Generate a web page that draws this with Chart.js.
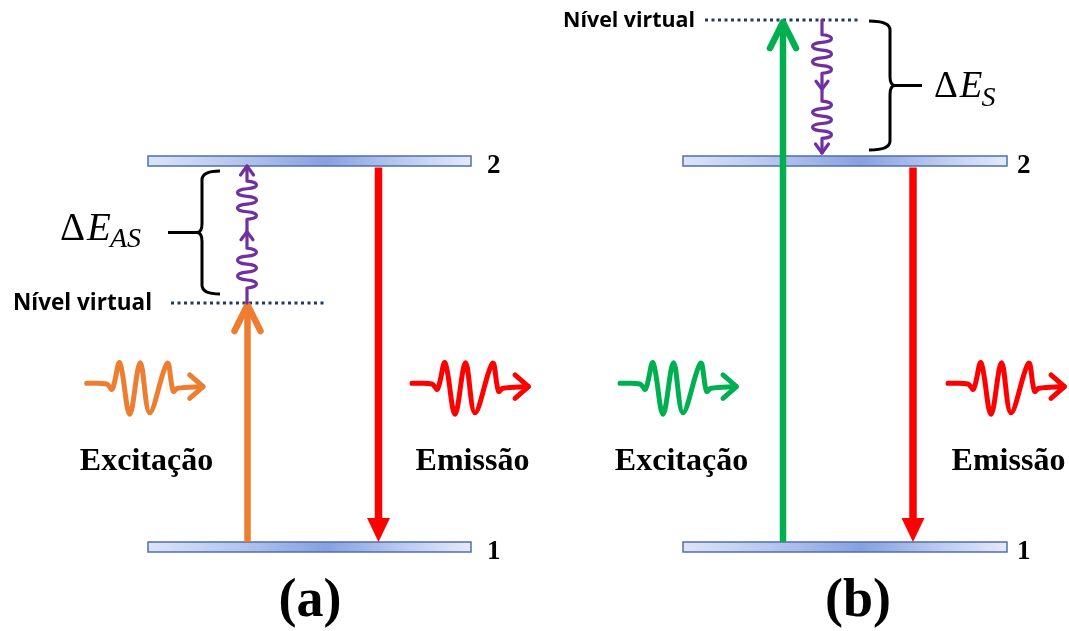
<!DOCTYPE html>
<html>
<head>
<meta charset="utf-8">
<script src="https://cdn.jsdelivr.net/npm/chart.js@4/dist/chart.umd.min.js"></script>
<style>
  html, body { margin: 0; padding: 0; background: #ffffff; overflow: hidden; }
  canvas { display: block; }
</style>
</head>
<body>
<canvas id="diagram" width="1069" height="631"></canvas>
<script>
// ---- Energy-level data (arbitrary units: ground state 1 = 0, excited state 2 = 1) ----
const levelNames = ['1', '2'];
const levelEnergy = [0, 1];
// Virtual level reached by the pump photon: (a) anti-Stokes, (b) Stokes
const panelNames = ['(a)', '(b)'];
const virtualEnergy = [0.632, 1.365];
const deltaSubscripts = ['AS', 'S'];
const photonLabels = ['Excitação', 'Emissão'];
const virtualLabel = 'Nível virtual';

// ---- Layout and style ----
const W = 1069, H = 631;
const E_TOP = 1.4171, E_BOTTOM = -0.2176;   // energy range spanned by the canvas
const BAR_H = 10;
const NAVY = '#1f3864', RED = '#ff0000', PURPLE = '#7030a0';
const SERIF = '"Liberation Serif", "Times New Roman", serif';
const SANS = '"Open Sans", "Liberation Sans", sans-serif';
const WAVE_Y = 383.3;
// photon glyph: wave packet followed by an arrow (offsets from its left end)
const WAVE_SHAPE = [[0, 0], [20, 0.7], [25.5, 6], [33, -20.5], [43, 31], [53.5, -20.5], [63, 29.5], [80.5, -20], [86.5, 8], [91, 5], [116, 3.3]];
const WAVE_HEAD = [[103, -8.5], [116.5, 3.3], [103, 15]];

const panels = [
  { levelX: [148, 471], pumpX: 247.5, emitX: 378.5, relaxX: 247, pumpColor: '#ed7d31',
    dotted: [171, 325], labelRight: 152, labelWidth: 139,
    brace: { tipX: 220, spineX: 202, cuspX: 197, tickX: 168, topPad: 5, botPad: -9 },
    delta: { x: 60, size: 39, subSize: 28, dy: 240 - 233, subDy: 247 - 233 },
    waveX: [86.7, 412], labelX: [146.5, 472.5], nameX: 310, levelLabelX: 487 },
  { levelX: [683, 1007], pumpX: 783, emitX: 913, relaxX: 822, pumpColor: '#00b050',
    dotted: [705, 860], labelRight: 695, labelWidth: 132,
    brace: { tipX: 869, spineX: 890, cuspX: 895, tickX: 922, topPad: 1, botPad: -8 },
    delta: { x: 934, size: 37, subSize: 28, dy: 98 - 87, subDy: 107 - 87 },
    waveX: [620, 948], labelX: [681.5, 1008.5], nameX: 858, levelLabelX: 1017 }
];

// ---- Datasets: dotted virtual levels and photon glyphs ----
const datasets = [];
panels.forEach((p, i) => {
  datasets.push({
    yAxisID: 'y',
    data: p.dotted.map(xv => ({ x: xv, y: virtualEnergy[i] })),
    showLine: true, borderColor: NAVY, borderWidth: 3, borderDash: [3, 3.5],
    borderCapStyle: 'butt', pointRadius: 0, tension: 0
  });
  photonLabels.forEach((_, k) => {
    const x0 = p.waveX[k];
    const col = k === 0 ? p.pumpColor : RED;
    datasets.push({
      yAxisID: 'yd',
      data: WAVE_SHAPE.map(([dx, dy]) => ({ x: x0 + dx, y: WAVE_Y + dy })),
      showLine: true, borderColor: col, borderWidth: 5, tension: 0.35,
      borderCapStyle: 'round', borderJoinStyle: 'round', pointRadius: 0
    });
    datasets.push({
      yAxisID: 'yd',
      data: WAVE_HEAD.map(([dx, dy]) => ({ x: x0 + dx, y: WAVE_Y + dy })),
      showLine: true, borderColor: col, borderWidth: 5, tension: 0,
      borderCapStyle: 'round', borderJoinStyle: 'round', pointRadius: 0
    });
  });
});

// ---- Drawing helpers ----
function chevron(ctx, x, y, dir, half, len, color, width) {
  // open arrow head with its tip at (x, y); dir = -1 points up, +1 points down
  ctx.save();
  ctx.strokeStyle = color; ctx.lineWidth = width;
  ctx.lineCap = 'round'; ctx.lineJoin = 'round';
  ctx.beginPath();
  ctx.moveTo(x - half, y - dir * len);
  ctx.lineTo(x, y);
  ctx.lineTo(x + half, y - dir * len);
  ctx.stroke();
  ctx.restore();
}

function squiggle(ctx, x, y0, y1, amp, halfWaves) {
  // vibrational spring drawn between y0 and y1
  const step = (y1 - y0) / halfWaves;
  ctx.moveTo(x, y0);
  for (let k = 0; k < halfWaves; k++) {
    const side = (k % 2 === 0) ? 1 : -1;
    const ya = y0 + k * step, yb = ya + step;
    ctx.bezierCurveTo(x + side * amp * 1.33, ya + step * 0.1, x + side * amp * 1.33, yb - step * 0.1, x, yb);
  }
}

function relaxation(ctx, x, yStart, yEnd) {
  const L = yEnd - yStart;
  const dir = Math.sign(L);
  const parts = [0.11, 0.29, 0.12, 0.09, 0.28, 0.11];
  let y = yStart;
  const pts = parts.map(f => (y += f * L));
  ctx.save();
  ctx.strokeStyle = PURPLE; ctx.lineWidth = 3.2;
  ctx.lineCap = 'round'; ctx.lineJoin = 'round';
  ctx.beginPath();
  ctx.moveTo(x, yStart); ctx.lineTo(x, pts[0]);
  squiggle(ctx, x, pts[0], pts[1], 9.5, 5);
  ctx.lineTo(x, pts[3]);
  squiggle(ctx, x, pts[3], pts[4], 9.5, 5);
  ctx.lineTo(x, yEnd);
  ctx.stroke();
  ctx.restore();
  chevron(ctx, x, pts[2], dir, 6, 8, PURPLE, 3.2);
  chevron(ctx, x, yEnd, dir, 6.5, 9, PURPLE, 3.2);
}

function brace(ctx, b, yTop, yBot) {
  const yMid = (yTop + yBot) / 2, r = 9;
  ctx.save();
  ctx.strokeStyle = '#000'; ctx.lineWidth = 3;
  ctx.lineCap = 'butt'; ctx.lineJoin = 'round';
  ctx.beginPath();
  ctx.moveTo(b.tipX, yTop);
  ctx.quadraticCurveTo(b.spineX, yTop, b.spineX, yTop + r);
  ctx.lineTo(b.spineX, yMid - r);
  ctx.quadraticCurveTo(b.spineX, yMid, b.cuspX, yMid);
  ctx.quadraticCurveTo(b.spineX, yMid, b.spineX, yMid + r);
  ctx.lineTo(b.spineX, yBot - r);
  ctx.quadraticCurveTo(b.spineX, yBot, b.tipX, yBot);
  ctx.moveTo(b.cuspX, yMid);
  ctx.lineTo(b.tickX, yMid);
  ctx.stroke();
  ctx.restore();
}

function fittedFont(ctx, text, weight, family, width) {
  ctx.font = `${weight} 20px ${family}`;
  const size = 20 * width / ctx.measureText(text).width;
  return `${weight} ${size.toFixed(2)}px ${family}`;
}

const diagramPlugin = {
  id: 'energyDiagram',
  beforeDatasetsDraw(chart) {
    const { ctx, scales: { x, y } } = chart;
    panels.forEach(p => {
      const x0 = x.getPixelForValue(p.levelX[0]);
      const x1 = x.getPixelForValue(p.levelX[1]);
      levelEnergy.forEach(e => {
        const cy = y.getPixelForValue(e);
        const g = ctx.createLinearGradient(x0, 0, x1, 0);
        g.addColorStop(0, '#dce4f6');
        g.addColorStop(0.28, '#b5c5ed');
        g.addColorStop(0.55, '#87a1df');
        g.addColorStop(0.8, '#bdcbef');
        g.addColorStop(1, '#e5eaf8');
        ctx.save();
        ctx.fillStyle = g;
        ctx.fillRect(x0, cy - BAR_H / 2, x1 - x0, BAR_H);
        ctx.strokeStyle = '#4f6eb0'; ctx.lineWidth = 1.5;
        ctx.strokeRect(x0, cy - BAR_H / 2, x1 - x0, BAR_H);
        ctx.restore();
      });
    });
  },
  afterDatasetsDraw(chart) {
    const { ctx, scales: { x, y, yd } } = chart;
    panels.forEach((p, i) => {
      const y1 = y.getPixelForValue(levelEnergy[0]);
      const y2 = y.getPixelForValue(levelEnergy[1]);
      const yv = y.getPixelForValue(virtualEnergy[i]);

      // pump photon: ground state -> virtual level
      const px = x.getPixelForValue(p.pumpX);
      ctx.save();
      ctx.strokeStyle = p.pumpColor; ctx.lineWidth = 6.5; ctx.lineCap = 'butt';
      ctx.beginPath(); ctx.moveTo(px, y1 - BAR_H / 2); ctx.lineTo(px, yv + 3); ctx.stroke();
      ctx.restore();
      chevron(ctx, px, yv + 2, -1, 13, 26, p.pumpColor, 6.5);

      // emission: state 2 -> state 1
      const ex = x.getPixelForValue(p.emitX);
      const tip = y1 - BAR_H / 2, head = 24;
      ctx.save();
      ctx.strokeStyle = RED; ctx.fillStyle = RED; ctx.lineWidth = 7.5; ctx.lineCap = 'butt';
      ctx.beginPath(); ctx.moveTo(ex, y2 + BAR_H / 2 + 1.5); ctx.lineTo(ex, tip - head + 2); ctx.stroke();
      ctx.beginPath(); ctx.moveTo(ex - 11.5, tip - head); ctx.lineTo(ex + 11.5, tip - head); ctx.lineTo(ex, tip);
      ctx.closePath(); ctx.fill();
      ctx.restore();

      // vibrational relaxation between the virtual level and state 2
      const rx = x.getPixelForValue(p.relaxX);
      const rEnd = yv > y2 ? y2 + BAR_H / 2 : y2 - BAR_H / 2 - 3;
      relaxation(ctx, rx, yv, rEnd);

      // brace spanning the energy gap
      const gapTop = Math.min(yv, y2), gapBot = Math.max(yv, y2);
      const topPad = yv > y2 ? BAR_H / 2 + p.brace.topPad : p.brace.topPad;
      const botPad = p.brace.botPad - (yv > y2 ? 0 : BAR_H / 2 - 2);
      brace(ctx, p.brace, gapTop + topPad, gapBot + botPad);

      // Delta E label
      const ym = (gapTop + topPad + gapBot + botPad) / 2;
      ctx.save();
      ctx.fillStyle = '#000'; ctx.textBaseline = 'alphabetic'; ctx.textAlign = 'left';
      ctx.font = `${p.delta.size}px ${SERIF}`;
      ctx.fillText('Δ', p.delta.x, ym + p.delta.dy);
      let cx = p.delta.x + ctx.measureText('Δ').width + 2;
      ctx.font = `italic ${p.delta.size}px ${SERIF}`;
      ctx.fillText('E', cx, ym + p.delta.dy);
      cx += ctx.measureText('E').width - 1;
      ctx.font = `italic ${p.delta.subSize}px ${SERIF}`;
      ctx.fillText(deltaSubscripts[i], cx, ym + p.delta.subDy);

      // virtual level label
      ctx.font = fittedFont(ctx, virtualLabel, 700, SANS, p.labelWidth);
      ctx.textAlign = 'right';
      ctx.fillText(virtualLabel, p.labelRight, yv + 7);

      // level numbers
      ctx.font = `bold 27px ${SERIF}`;
      ctx.textAlign = 'left';
      levelEnergy.forEach((e, k) => {
        ctx.fillText(levelNames[k], p.levelLabelX, y.getPixelForValue(e) + 11.5);
      });

      // photon labels
      ctx.font = `bold 32px ${SERIF}`;
      ctx.textAlign = 'center';
      photonLabels.forEach((t, k) => ctx.fillText(t, p.labelX[k], yd.getPixelForValue(470)));

      // panel name
      ctx.font = `bold 54px ${SERIF}`;
      ctx.fillText(panelNames[i], p.nameX, yd.getPixelForValue(616));
      ctx.restore();
    });
  }
};

new Chart(document.getElementById('diagram'), {
  type: 'scatter',
  data: { datasets },
  options: {
    responsive: false,
    devicePixelRatio: 1,
    animation: false,
    events: [],
    layout: { padding: 0 },
    plugins: { legend: { display: false }, tooltip: { enabled: false }, title: { display: false } },
    scales: {
      x: { type: 'linear', min: 0, max: W, display: false },
      y: { type: 'linear', min: E_BOTTOM, max: E_TOP, display: false },
      yd: { type: 'linear', min: 0, max: H, reverse: true, display: false }
    }
  },
  plugins: [diagramPlugin]
});
</script>
</body>
</html>
